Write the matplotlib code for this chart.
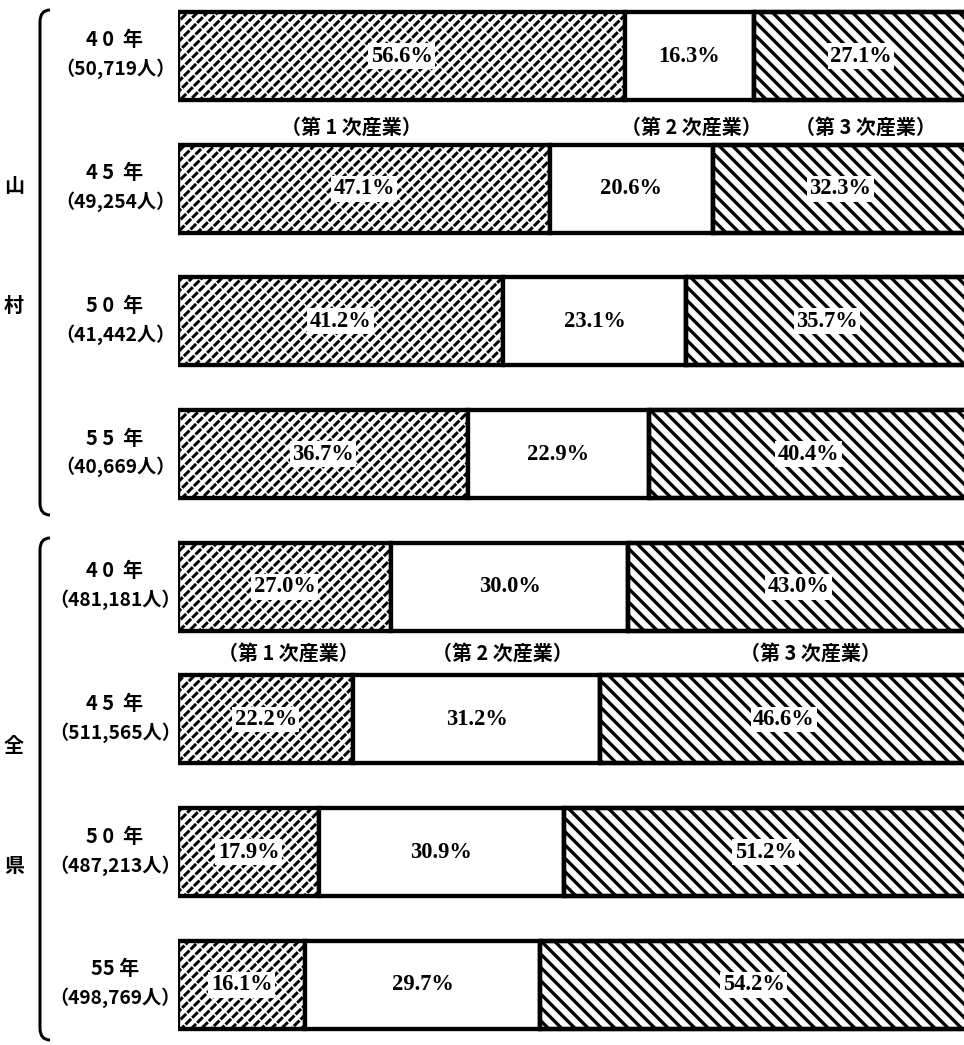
import matplotlib.pyplot as plt
import matplotlib.transforms as mtransforms
from matplotlib.path import Path
from matplotlib.patches import PathPatch

plt.rcParams['font.family'] = ['Noto Sans CJK JP', 'DejaVu Sans']
plt.rcParams['hatch.linewidth'] = 2.0

# data
years = ['4 0  年', '4 5  年', '5 0  年', '5 5  年', '4 0  年', '4 5  年', '5 0  年', '55 年']
people = ['（50,719人）', '（49,254人）', '（41,442人）', '（40,669人）',
          '（481,181人）', '（511,565人）', '（487,213人）', '（498,769人）']
primary = [56.6, 47.1, 41.2, 36.7, 27.0, 22.2, 17.9, 16.1]
secondary = [16.3, 20.6, 23.1, 22.9, 30.0, 31.2, 30.9, 29.7]
tertiary = [27.1, 32.3, 35.7, 40.4, 43.0, 46.6, 51.2, 54.2]
groups = [('山', '村'), ('全', '県')]
sector_names = ['（第 1 次産業）', '（第 2 次産業）', '（第 3 次産業）']

W, H, DPI = 964, 1045, 120
fig = plt.figure(figsize=(W / DPI, H / DPI), dpi=DPI)

# bar axes: starts at x=178px, 100% = 790px, rows every 132.7px from y=56
row_px = 132.7
ax = fig.add_axes([178 / W, 0, 790 / W, 1])
ax.set_xlim(0, 100)
ax.set_ylim((H - 56) / row_px, -56 / row_px)
ax.axis('off')

rows = list(range(len(primary)))
h = 88 / row_px
lw = 2.6

left2 = [p for p in primary]
left3 = [p + s for p, s in zip(primary, secondary)]


def hatch_width(bars, w):
    for b in bars:
        if hasattr(b, 'set_hatch_linewidth'):
            b.set_hatch_linewidth(w)


# primary: dashed diagonal pattern (black '/' hatch broken by white '\' hatch)
blk = ax.barh(rows, primary, height=h, color='white', edgecolor='black',
              linewidth=0, hatch='////')
hatch_width(blk, 1.8)
brk = ax.barh(rows, primary, height=h, fill=False, edgecolor='white',
              linewidth=0, hatch='\\\\\\')
hatch_width(brk, 0.9)
ax.barh(rows, primary, height=h, fill=False, edgecolor='black', linewidth=lw)
# secondary: plain white
ax.barh(rows, secondary, left=left2, height=h, color='white',
        edgecolor='black', linewidth=lw)
# tertiary: backslash hatch
ter = ax.barh(rows, tertiary, left=left3, height=h, color='white',
              edgecolor='black', linewidth=lw, hatch='\\\\\\')
hatch_width(ter, 2.0)
ax.barh(rows, tertiary, left=left3, height=h, fill=False,
        edgecolor='black', linewidth=lw)

box = dict(facecolor='white', edgecolor='none', pad=1.5)
for i in rows:
    vals = [primary[i], secondary[i], tertiary[i]]
    lefts = [0, left2[i], left3[i]]
    for v, l in zip(vals, lefts):
        ax.text(l + v / 2, i, f'{v:.1f}%', ha='center', va='center',
                fontsize=13.5, fontweight='bold', bbox=box,
                family=['Liberation Serif', 'Noto Sans CJK JP'])

# row labels on the left
tr = mtransforms.blended_transform_factory(fig.transFigure, ax.transData)
for i in rows:
    ax.text(115 / W, i - 16 / row_px, years[i], transform=tr, ha='center',
            va='center', fontsize=12, fontweight='bold')
    ax.text(115 / W, i + 13 / row_px, people[i], transform=tr, ha='center',
            va='center', fontsize=11.5, fontweight='bold')

# sector names under the first bar of each group
sector_x = [[22, 65, 87], [14, 41, 80]]
sector_y = [0.54, 4.5]
for xs, y in zip(sector_x, sector_y):
    for x, name in zip(xs, sector_names):
        ax.text(x, y, name, ha='center', va='center', fontsize=12,
                fontweight='bold')

# group braces and labels (figure pixel coords)
ov = fig.add_axes([0, 0, 1, 1], facecolor='none')
ov.set_xlim(0, W)
ov.set_ylim(H, 0)
ov.axis('off')
for (top, bot), (c1, c2), (y1, y2) in zip([(10, 515), (538, 1040)], groups,
                                          [(185, 305), (745, 865)]):
    verts = [(50, top), (40, top), (40, top + 12), (40, bot - 12),
             (40, bot), (50, bot)]
    codes = [Path.MOVETO, Path.CURVE3, Path.CURVE3, Path.LINETO,
             Path.CURVE3, Path.CURVE3]
    ov.add_patch(PathPatch(Path(verts, codes), fill=False, lw=1.8,
                           edgecolor='black'))
    ov.text(14, y1, c1, ha='center', va='center', fontsize=12,
            fontweight='bold')
    ov.text(14, y2, c2, ha='center', va='center', fontsize=12,
            fontweight='bold')

fig.savefig('out.png', dpi=DPI)
